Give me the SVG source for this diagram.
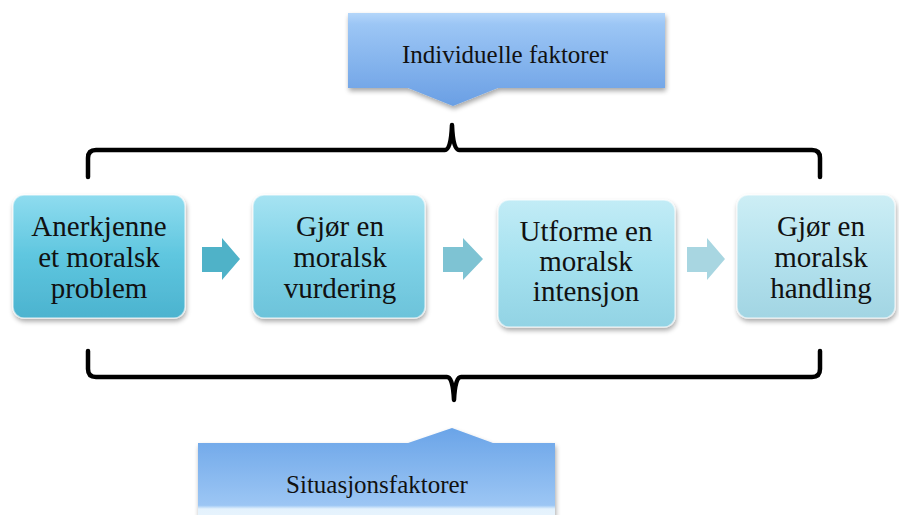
<svg xmlns="http://www.w3.org/2000/svg" width="899" height="515" viewBox="0 0 899 515">
<defs>
  <linearGradient id="gTop" x1="0" y1="0" x2="0" y2="1">
    <stop offset="0" stop-color="#b4d6fa"/>
    <stop offset="0.12" stop-color="#9cc6f5"/>
    <stop offset="1" stop-color="#6a9fe4"/>
  </linearGradient>
  <linearGradient id="gBot" x1="0" y1="0" x2="0" y2="1">
    <stop offset="0" stop-color="#6aa4e8"/>
    <stop offset="0.84" stop-color="#9cc6f4"/>
    <stop offset="0.88" stop-color="#e4f2fd"/>
    <stop offset="1" stop-color="#e8f4fd"/>
  </linearGradient>
  <linearGradient id="g1" x1="0" y1="0" x2="0" y2="1">
    <stop offset="0" stop-color="#8fdcef"/>
    <stop offset="0.5" stop-color="#5ec6df"/>
    <stop offset="1" stop-color="#4cb3cf"/>
  </linearGradient>
  <linearGradient id="g2" x1="0" y1="0" x2="0" y2="1">
    <stop offset="0" stop-color="#a6e3f2"/>
    <stop offset="0.5" stop-color="#7fd2e7"/>
    <stop offset="1" stop-color="#6cc3da"/>
  </linearGradient>
  <linearGradient id="g3" x1="0" y1="0" x2="0" y2="1">
    <stop offset="0" stop-color="#c2ecf6"/>
    <stop offset="0.5" stop-color="#a5e1ef"/>
    <stop offset="1" stop-color="#92d3e4"/>
  </linearGradient>
  <linearGradient id="g4" x1="0" y1="0" x2="0" y2="1">
    <stop offset="0" stop-color="#cdeef5"/>
    <stop offset="0.5" stop-color="#b4e2ee"/>
    <stop offset="1" stop-color="#a2d5e3"/>
  </linearGradient>
  <filter id="sh" x="-10%" y="-10%" width="125%" height="130%">
    <feGaussianBlur in="SourceAlpha" stdDeviation="2.5"/>
    <feOffset dx="1" dy="3" result="b"/>
    <feComponentTransfer><feFuncA type="linear" slope="0.35"/></feComponentTransfer>
    <feMerge><feMergeNode/><feMergeNode in="SourceGraphic"/></feMerge>
  </filter>
</defs>
<style>
  text { fill: #111; text-anchor: middle; font-family: "Times New Roman", "Liberation Serif", serif; }
  .big { font-size: 25px; }
  .st { font-size: 29px; }
  .box { stroke: #ffffff; stroke-opacity: 0.55; stroke-width: 1.5; }
  .brace { fill: none; stroke: #000; stroke-width: 4.5; stroke-linecap: round; stroke-linejoin: round; }
</style>

<g id="individuelle-faktorer">
  <path d="M348,13 H665 V88 H498 L453,106 L408,88 H348 Z" fill="url(#gTop)" filter="url(#sh)"/>
  <text class="big" x="505" y="63">Individuelle faktorer</text>
</g>

<g id="situasjonsfaktorer">
  <path d="M198,443 H408 L452,428 L493,443 H555 V520 H198 Z" fill="url(#gBot)" filter="url(#sh)"/>
  <text class="big" x="377" y="493">Situasjonsfaktorer</text>
</g>

<g id="anerkjenne">
  <rect class="box" x="13" y="195" width="172" height="123" rx="11" fill="url(#g1)" filter="url(#sh)"/>
  <text class="st" x="99" y="236">Anerkjenne</text>
  <text class="st" x="99" y="267">et moralsk</text>
  <text class="st" x="99" y="298">problem</text>
</g>

<g id="vurdering">
  <rect class="box" x="253" y="195" width="172" height="123" rx="11" fill="url(#g2)" filter="url(#sh)"/>
  <text class="st" x="340" y="236">Gjør en</text>
  <text class="st" x="340" y="267">moralsk</text>
  <text class="st" x="340" y="298">vurdering</text>
</g>

<g id="intensjon">
  <rect class="box" x="498" y="200" width="177" height="127" rx="11" fill="url(#g3)" filter="url(#sh)"/>
  <text class="st" x="586" y="241">Utforme en</text>
  <text class="st" x="586" y="271">moralsk</text>
  <text class="st" x="586" y="301">intensjon</text>
</g>

<g id="handling">
  <rect class="box" x="737" y="195" width="158" height="123" rx="11" fill="url(#g4)" filter="url(#sh)"/>
  <text class="st" x="821" y="236">Gjør en</text>
  <text class="st" x="821" y="267">moralsk</text>
  <text class="st" x="821" y="298">handling</text>
</g>

<g id="connectors">
  <path d="M202,247 H222 V238 L240,259 L222,280 V272 H202 Z" fill="#4fb2c8"/>
  <path d="M443,247 H463 V238 L483,259 L463,280 V272 H443 Z" fill="#7ec3d3"/>
  <path d="M687,247 H707 V238 L725,259 L707,280 V272 H687 Z" fill="#a8d6e1"/>
  <path class="brace" d="M88,177 V158 Q88,150 96,150 H445 Q451,150 452,125 Q453,150 459,150 H812 Q820,150 820,158 V177"/>
  <path class="brace" d="M88,351 V369 Q88,377 96,377 H447 Q453,377 454,400 Q455,377 461,377 H812 Q820,377 820,369 V351"/>
</g>
</svg>
